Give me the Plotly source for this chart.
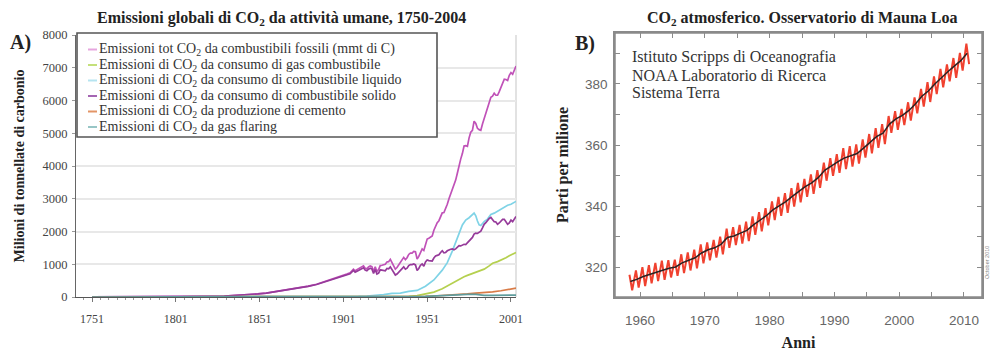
import plotly.graph_objects as go

SERIF = "Liberation Serif, Times New Roman, serif"
SANS = "Liberation Sans, Arial, sans-serif"

# ---------------- Panel A data (million metric tons of carbon) ----------------
years_ts = [1751, 1770, 1790, 1800, 1810, 1820, 1830, 1840, 1850, 1855, 1860, 1865,
            1870, 1875, 1880, 1885, 1890, 1895, 1900, 1903, 1905, 1907, 1908] + list(range(1910, 2005))

total_fossil = [3, 4, 7, 10, 14, 20, 30, 55, 95, 120, 160, 200,
                230, 280, 330, 390, 470, 560, 650, 700, 740, 850, 800,
                860, 880, 900, 950, 880, 860, 920, 950, 930, 780,
                920, 780, 840, 960, 970, 990, 1000, 1070, 1080, 1150,
                1060, 940, 850, 900, 980, 1030, 1130, 1210, 1140, 1200,
                1300, 1340, 1340, 1390, 1380, 1160, 1240, 1390, 1470, 1420,
                1630, 1770, 1795, 1840, 1865, 2040, 2180, 2270, 2330, 2450,
                2570, 2580, 2690, 2830, 3000, 3130, 3290, 3390, 3570, 3780,
                4050, 4210, 4380, 4610, 4620, 4600, 4860, 5030, 5090, 5370,
                5300, 5150, 5110, 5090, 5280, 5440, 5610, 5750, 5970, 6100,
                6130, 6220, 6160, 6160, 6270, 6400, 6540, 6650, 6640, 6610,
                6770, 6850, 6800, 6950, 7050]

solid_fuel = [3, 4, 7, 10, 14, 20, 30, 55, 95, 120, 160, 200,
              228, 277, 325, 383, 460, 545, 630, 675, 710, 810, 760,
              810, 830, 850, 890, 820, 800, 850, 880, 860, 720,
              840, 700, 730, 830, 820, 820, 800, 870, 860, 920,
              840, 750, 670, 700, 760, 790, 870, 920, 850, 880,
              960, 990, 990, 1010, 980, 810, 870, 970, 1010, 940,
              1070, 1130, 1110, 1110, 1100, 1190, 1250, 1270, 1290, 1360,
              1410, 1350, 1360, 1410, 1440, 1460, 1470, 1440, 1470, 1520,
              1570, 1560, 1580, 1610, 1600, 1660, 1730, 1790, 1820, 1920,
              1950, 1940, 1970, 2010, 2110, 2220, 2270, 2340, 2400, 2430,
              2360, 2300, 2290, 2220, 2260, 2330, 2370, 2370, 2300, 2220,
              2260, 2350, 2300, 2400, 2460]

years_gas = [1751, 1885, 1900, 1920, 1930, 1940, 1945, 1950, 1955, 1960, 1965, 1970, 1973,
             1975, 1978, 1980, 1983, 1985, 1988, 1990, 1993, 1995, 1998, 2000, 2002, 2004]
gas_fuel = [0, 1, 2, 5, 10, 20, 40, 97, 150, 250, 400, 540, 620,
            660, 720, 760, 800, 850, 950, 1030, 1080, 1120, 1200, 1260, 1310, 1360]

years_liq = [1751, 1870, 1890, 1900, 1910, 1915, 1920, 1925, 1930, 1935, 1940, 1945, 1950,
             1955, 1960, 1963, 1966, 1969, 1972, 1974, 1976, 1979, 1980, 1981, 1982, 1983,
             1985, 1987, 1989, 1991, 1993, 1995, 1997, 1999, 2001, 2003, 2004]
liquid_fuel = [0, 1, 3, 8, 20, 30, 45, 70, 110, 120, 170, 200, 330,
               520, 820, 1050, 1400, 1800, 2200, 2350, 2420, 2560, 2480, 2320, 2200, 2180,
               2300, 2380, 2520, 2560, 2620, 2680, 2760, 2800, 2830, 2890, 2920]

years_cem = [1751, 1920, 1930, 1940, 1950, 1955, 1960, 1965, 1970, 1975, 1980, 1985, 1990, 1995, 2000, 2004]
cement = [0, 5, 10, 15, 18, 30, 43, 60, 78, 95, 120, 130, 157, 190, 226, 270]

years_flr = [1751, 1930, 1950, 1960, 1965, 1970, 1973, 1975, 1980, 1985, 1990, 1995, 2000, 2004]
flaring = [0, 0, 20, 40, 55, 70, 90, 80, 80, 50, 50, 55, 60, 60]

series_names = [
    "Emissioni tot CO<sub>2</sub> da combustibili fossili (mmt di C)",
    "Emissioni di CO<sub>2</sub> da consumo di gas combustibile",
    "Emissioni di CO<sub>2</sub> da consumo di combustibile liquido",
    "Emissioni di CO<sub>2</sub> da consumo di combustibile solido",
    "Emissioni di CO<sub>2</sub> da produzione di cemento",
    "Emissioni di CO<sub>2</sub> da gas flaring",
]
legend_colors = ["#e6a6de", "#c4e07a", "#b6e4f0", "#a565b2", "#e39566", "#98c6c6"]
x_ticks_a = [1751, 1801, 1851, 1901, 1951, 2001]

# ---------------- Panel B data (ppm, Mauna Loa) ----------------
years_ml = list(range(1958, 2011))
co2_annual = [315.30, 315.97, 316.91, 317.64, 318.45, 318.99, 319.62, 320.04, 321.37, 322.18,
              323.05, 324.62, 325.68, 326.32, 327.46, 329.68, 330.19, 331.13, 332.03, 333.84,
              335.41, 336.84, 338.76, 340.12, 341.48, 343.15, 344.85, 346.35, 347.61, 349.31,
              351.69, 353.20, 354.45, 355.70, 356.54, 357.21, 358.96, 360.97, 362.74, 363.88,
              366.84, 368.54, 369.71, 371.32, 373.45, 375.98, 377.70, 379.98, 382.09, 384.02,
              385.83, 387.64, 390.10]
co2_may = [317.5, 318.9, 320.0, 320.6, 321.4, 322.1, 322.3, 322.4, 324.2, 324.8,
           325.7, 327.4, 328.1, 328.9, 330.0, 332.6, 333.1, 333.8, 334.9, 336.6,
           338.0, 339.3, 341.5, 343.0, 344.2, 345.9, 347.6, 348.9, 350.4, 351.8,
           354.2, 355.7, 357.0, 359.0, 359.6, 360.2, 361.8, 363.6, 365.5, 366.8,
           369.5, 371.1, 371.8, 374.0, 375.6, 378.4, 380.6, 382.5, 384.9, 386.4,
           388.5, 390.2, 393.2]
co2_oct = [312.4, 313.3, 313.8, 314.7, 315.4, 315.8, 316.6, 317.1, 318.0, 318.9,
           319.6, 321.2, 322.2, 323.1, 324.2, 326.3, 327.2, 327.7, 328.5, 330.6,
           331.7, 333.7, 335.4, 336.8, 337.8, 339.8, 341.2, 343.0, 344.0, 346.0,
           348.3, 349.9, 350.9, 352.1, 352.9, 353.9, 355.9, 357.3, 359.1, 360.3,
           364.0, 365.0, 366.5, 368.0, 370.4, 372.6, 374.1, 376.7, 378.9, 380.9,
           382.0, 384.4, 386.5]
source_lines = ["Istituto Scripps di Oceanografia", "NOAA Laboratorio di Ricerca", "Sistema Terra"]
x_ticks_b = [1960, 1965, 1970, 1975, 1980, 1985, 1990, 1995, 2000, 2005, 2010]
x_labels_b = ["1960", "", "1970", "", "1980", "", "1990", "", "2000", "", "2010"]
y_ticks_b = [320, 330, 340, 350, 360, 370, 380, 390]
y_labels_b = ["320", "", "340", "", "360", "", "380", ""]

# seasonal maximum (May) and minimum (October) positions within each year
seasonal_x, seasonal_y = [], []
for yr, hi, lo in zip(years_ml, co2_may, co2_oct):
    seasonal_x += [yr + 0.37, yr + 0.79]
    seasonal_y += [hi, lo]
annual_x = [yr + 0.5 for yr in years_ml]

fig = go.Figure()

colors_a = ["#c052b8", "#b5d04f", "#7fd3e6", "#963a9a", "#d97c48", "#5f9c9c"]
xs_a = [years_ts, years_gas, years_liq, years_ts, years_cem, years_flr]
ys_a = [total_fossil, gas_fuel, liquid_fuel, solid_fuel, cement, flaring]
for name, col, xx, yy in zip(series_names, colors_a, xs_a, ys_a):
    fig.add_trace(go.Scatter(x=xx, y=yy, mode="lines", name=name, showlegend=False,
                             line=dict(color=col, width=1.7), xaxis="x", yaxis="y"))

fig.add_trace(go.Scatter(x=seasonal_x, y=seasonal_y, mode="lines", showlegend=False,
                         name="CO2 mensile",
                         line=dict(color="#f0412f", width=2.0), xaxis="x2", yaxis="y2"))
# annual mean drawn on the overlaid top/right axes (same ranges), above the monthly curve
fig.add_trace(go.Scatter(x=annual_x, y=co2_annual, mode="lines", showlegend=False,
                         name="CO2 media annua",
                         line=dict(color="#2a2222", width=1.5), xaxis="x3", yaxis="y3"))

W, H = 994, 352
def px(xp):
    return xp / W
def py(yp):
    return 1 - yp / H

X2_RANGE = [1956.14, 2012.78]
Y2_RANGE = [310.2, 396.7]
tick_style_b = dict(ticks="inside", ticklen=5, tickwidth=1.3, tickcolor="#8a8a8a",
                    showgrid=False, zeroline=False, showline=True,
                    linecolor="#8a8a8a", linewidth=1.5, automargin=False)

shapes = [
    # light right border of panel A
    dict(type="line", xref="x domain", yref="y domain", x0=1, x1=1, y0=0, y1=1,
         line=dict(color="#d8d8d8", width=1.5), layer="below"),
    # frame of panel B
    dict(type="rect", xref="x2 domain", yref="y2 domain", x0=0, x1=1, y0=0, y1=1,
         line=dict(color="#8a8a8a", width=1.5), layer="above"),
    # legend box of panel A
    dict(type="rect", xref="paper", yref="paper", x0=px(77), x1=px(437), y0=py(137), y1=py(33),
         line=dict(color="#555555", width=1.6), fillcolor="white", layer="above"),
]
ann = []
row_y = [49.5, 65, 80.5, 96, 111.5, 127]
for name, col, ry in zip(series_names, legend_colors, row_y):
    shapes.append(dict(type="line", xref="paper", yref="paper", x0=px(88), x1=px(97),
                       y0=py(ry), y1=py(ry), line=dict(color=col, width=2), layer="above"))
    ann.append(dict(text=name, x=px(97), y=py(ry), xanchor="left",
                    font=dict(family=SERIF, size=14, color="#333333")))

fig.update_layout(
    width=W, height=H, template="none",
    margin=dict(l=0, r=0, t=0, b=0),
    paper_bgcolor="white", plot_bgcolor="white",
    showlegend=False,
    xaxis=dict(domain=[px(76), px(516)], range=[1741.45, 2004], showgrid=False, zeroline=False,
               showline=True, linecolor="#555555", linewidth=1,
               tickvals=x_ticks_a, ticks="outside", ticklen=4, tickwidth=1, tickcolor="#777777",
               minor=dict(ticks="outside", ticklen=2, dtick=5, tick0=1751, tickcolor="#999999"),
               ticklabelstandoff=7, automargin=False,
               tickfont=dict(family=SERIF, size=12, color="#444444")),
    yaxis=dict(domain=[py(297), py(35)], range=[0, 8000], dtick=1000,
               showgrid=True, gridcolor="#e8e8e8", gridwidth=1.5, zeroline=False,
               showline=True, linecolor="#666666", linewidth=1,
               ticks="outside", ticklen=3, tickwidth=1, tickcolor="#999999", ticklabelstandoff=2,
               automargin=False,
               tickfont=dict(family=SERIF, size=12.5, color="#444444"),
               title=dict(text="<b>Milioni di tonnellate di carbonio</b>", standoff=14,
                          font=dict(family=SERIF, size=14, color="#222222"))),
    xaxis2=dict(domain=[px(615), px(982)], range=X2_RANGE, anchor="y2",
                tickmode="array", tickvals=x_ticks_b, ticktext=x_labels_b,
                ticklabelstandoff=10,
                tickfont=dict(family=SANS, size=13.5, color="#666666"),
                title=dict(text="<b>Anni</b>", standoff=10,
                           font=dict(family=SERIF, size=16, color="#222222")),
                **tick_style_b),
    yaxis2=dict(domain=[py(297), py(33)], range=Y2_RANGE, anchor="x2",
                tickmode="array", tickvals=y_ticks_b, ticktext=y_labels_b,
                ticklabelstandoff=3,
                tickfont=dict(family=SANS, size=13.5, color="#666666"),
                title=dict(text="<b>Parti per milione</b>", standoff=12,
                           font=dict(family=SERIF, size=16, color="#222222")),
                **tick_style_b),
    xaxis3=dict(overlaying="x2", side="top", anchor="y3", range=X2_RANGE,
                tickmode="array", tickvals=x_ticks_b, showticklabels=False, **tick_style_b),
    yaxis3=dict(overlaying="y2", side="right", anchor="x3", range=Y2_RANGE,
                tickmode="array", tickvals=y_ticks_b, showticklabels=False, **tick_style_b),
    shapes=shapes,
)

ann += [
    dict(text="<b>A)</b>", x=px(20), y=py(42), font=dict(family=SERIF, size=20, color="#222222")),
    dict(text="<b>Emissioni globali di CO<sub>2</sub> da attività umane, 1750-2004</b>",
         x=px(281), y=py(18), font=dict(family=SERIF, size=16, color="#222222")),
    dict(text="<b>B)</b>", x=px(585), y=py(43), font=dict(family=SERIF, size=20, color="#222222")),
    dict(text="<b>CO<sub>2</sub> atmosferico. Osservatorio di Mauna Loa</b>",
         x=px(802), y=py(18), font=dict(family=SERIF, size=16, color="#222222")),
    dict(text="October 2010", x=px(987), y=py(263), textangle=-90,
         font=dict(family=SANS, size=5.5, color="#888888")),
]
for line_txt, ly in zip(source_lines, [57, 75, 93]):
    ann.append(dict(text=line_txt, x=px(630), y=py(ly), xanchor="left",
                    font=dict(family=SERIF, size=16, color="#333333")))
for a in ann:
    a.setdefault("xanchor", "center")
    a.setdefault("yanchor", "middle")
    a.update(xref="paper", yref="paper", showarrow=False)
fig.update_layout(annotations=ann)

fig.write_html("out.html", config={"displayModeBar": False},
               post_script="document.body.style.margin='0';")
